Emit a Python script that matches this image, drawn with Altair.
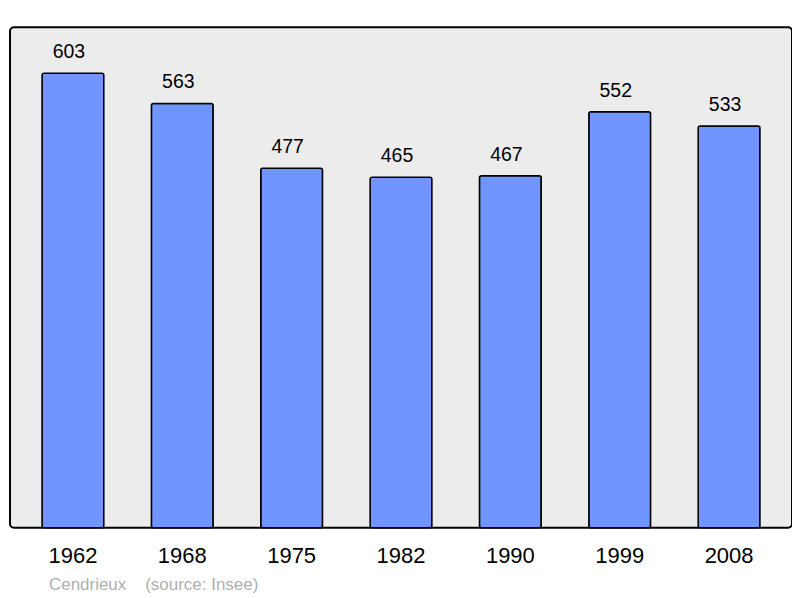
import altair as alt
import pandas as pd

years = ["1962", "1968", "1975", "1982", "1990", "1999", "2008"]
population = [603, 563, 477, 465, 467, 552, 533]

df = pd.DataFrame({"year": years, "pop": population})

x = alt.X("year:N", sort=years, title=None,
          scale=alt.Scale(paddingInner=0.435, paddingOuter=0.293),
          axis=alt.Axis(labelAngle=0, ticks=False, domain=False, labelPadding=18,
                        labelFontSize=22, labelFont="Liberation Sans", labelColor="#000"))
y = alt.Y("pop:Q", scale=alt.Scale(domain=[0, 664], nice=False, zero=True), axis=None)

bars = alt.Chart(df).mark_bar(fill="#7095ff", stroke="#000", strokeWidth=1.5,
                              cornerRadius=2).encode(x=x, y=y)
labels = alt.Chart(df).mark_text(fontSize=19.5, font="Liberation Sans", color="#000",
                                 baseline="alphabetic", dy=-15, dx=-4).encode(
    x=x, y=y, text="pop:Q")

chart = (bars + labels).properties(
    width=783, height=501,
    padding={"left": 2, "top": 19, "right": 0, "bottom": 0},
    title=alt.TitleParams("Cendrieux\u00a0\u00a0\u00a0\u00a0(source: Insee)",
                          orient="bottom", anchor="start", dx=39, offset=10,
                          fontSize=17, fontWeight="normal", font="Liberation Sans",
                          color="#b0b0b0"),
).configure_view(fill="#ececec", stroke="#000", strokeWidth=2, cornerRadius=4)

chart.save("out.html", embed_options={"renderer": "svg", "actions": False})
